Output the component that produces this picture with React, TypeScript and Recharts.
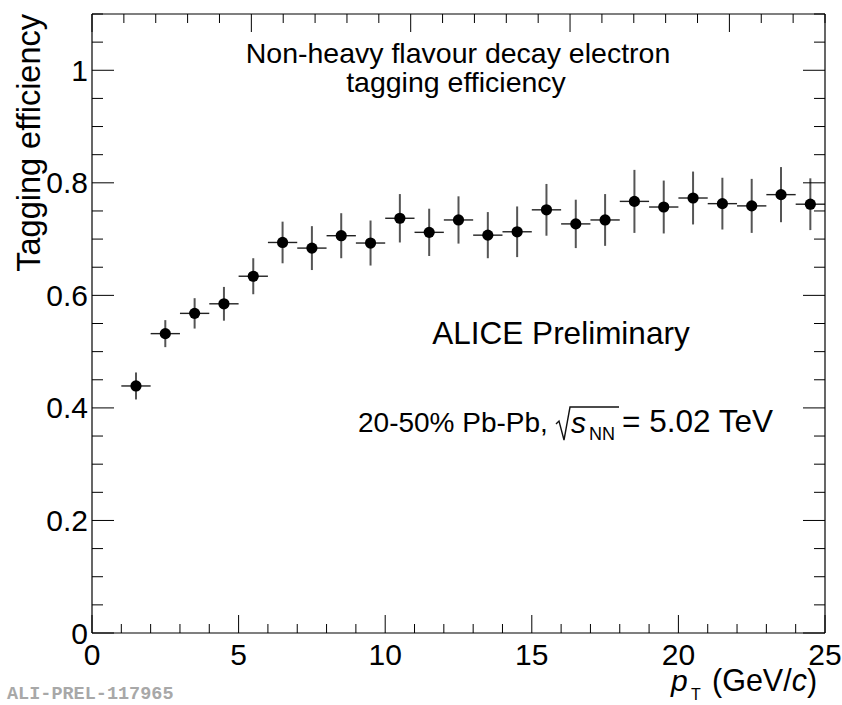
import React from 'react';
import { ComposedChart, Scatter, XAxis, YAxis, ErrorBar } from 'recharts';

// ---- data ----
const ptBinCenters = [1.5, 2.5, 3.5, 4.5, 5.5, 6.5, 7.5, 8.5, 9.5, 10.5, 11.5, 12.5, 13.5, 14.5, 15.5, 16.5, 17.5, 18.5, 19.5, 20.5, 21.5, 22.5, 23.5, 24.5];
const ptBinHalfWidths = [0.5, 0.5, 0.5, 0.5, 0.5, 0.5, 0.5, 0.5, 0.5, 0.5, 0.5, 0.5, 0.5, 0.5, 0.5, 0.5, 0.5, 0.5, 0.5, 0.5, 0.5, 0.5, 0.5, 0.5];
const taggingEff = [0.439, 0.532, 0.568, 0.585, 0.634, 0.694, 0.684, 0.706, 0.693, 0.737, 0.712, 0.734, 0.707, 0.713, 0.752, 0.727, 0.734, 0.767, 0.757, 0.773, 0.763, 0.759, 0.779, 0.762];
const taggingEffErr = [0.024, 0.024, 0.027, 0.030, 0.032, 0.037, 0.039, 0.040, 0.040, 0.043, 0.042, 0.042, 0.041, 0.045, 0.046, 0.043, 0.046, 0.056, 0.047, 0.047, 0.046, 0.048, 0.049, 0.046];

const xTickValues = [0, 1, 2, 3, 4, 5, 6, 7, 8, 9, 10, 11, 12, 13, 14, 15, 16, 17, 18, 19, 20, 21, 22, 23, 24, 25];
const xTickLabels = [0, 5, 10, 15, 20, 25];
const yTickValues = [0, 0.05, 0.1, 0.15, 0.2, 0.25, 0.3, 0.35, 0.4, 0.45, 0.5, 0.55, 0.6, 0.65, 0.7, 0.75, 0.8, 0.85, 0.9, 0.95, 1.0, 1.05, 1.1];
const yTickLabels = [0, 0.2, 0.4, 0.6, 0.8, 1];

const data = ptBinCenters.map((x, i) => ({ x, y: taggingEff[i], ex: ptBinHalfWidths[i], ey: taggingEffErr[i] }));

const FONT = '"Liberation Sans", Arial, Helvetica, sans-serif';

const isIn = (arr: number[], v: number) => arr.some((a) => Math.abs(a - v) < 1e-6);
const fmtY = (v: number) => (Math.abs(v) < 1e-9 ? '0' : Math.abs(v - 1) < 1e-9 ? '1' : v.toFixed(1));

const XTick = (props: any) => {
  const { x, y, payload, top } = props;
  const v = payload.value;
  const major = isIn(xTickLabels, v);
  const len = major ? 18 : 9;
  const dir = top ? 1 : -1;
  return (
    <g>
      <line x1={x} y1={y} x2={x} y2={y + dir * len} stroke="#000" strokeWidth={1} />
      {!top && major && (
        <text x={x} y={y + 32} textAnchor="middle" fontFamily={FONT} fontSize={30} fill="#000">
          {v}
        </text>
      )}
    </g>
  );
};

const YTick = (props: any) => {
  const { x, y, payload, right } = props;
  const v = payload.value;
  const major = isIn(yTickLabels, v);
  const len = major ? 22 : 11;
  const dir = right ? -1 : 1;
  return (
    <g>
      <line x1={x} y1={y} x2={x + dir * len} y2={y} stroke="#000" strokeWidth={1} />
      {!right && major && (
        <text x={x - 4} y={y + 10.5} textAnchor="end" fontFamily={FONT} fontSize={30} fill="#000">
          {fmtY(v)}
        </text>
      )}
    </g>
  );
};

const Dot = (props: any) => <circle cx={props.cx} cy={props.cy} r={5.6} fill="#000" />;

const axisLine = { stroke: '#000', strokeWidth: 1.2 };

export default function App() {
  return (
    <div style={{ position: 'absolute', left: 0, top: 0, width: 842, height: 705, background: '#fff' }}>
      <ComposedChart width={842} height={705} data={data} margin={{ top: 13, right: 16, bottom: 71, left: 91 }}>
        <XAxis
          xAxisId="b"
          type="number"
          dataKey="x"
          domain={[0, 25]}
          ticks={xTickValues}
          interval={0}
          height={1}
          tickSize={0}
          tickMargin={0}
          axisLine={axisLine}
          tick={(p: any) => <XTick {...p} />}
          allowDataOverflow
        />
        <XAxis
          xAxisId="t"
          orientation="top"
          type="number"
          domain={[0, 25]}
          ticks={xTickValues}
          interval={0}
          height={1}
          tickSize={0}
          tickMargin={0}
          axisLine={axisLine}
          tick={(p: any) => <XTick {...p} top />}
          allowDataOverflow
        />
        <YAxis
          yAxisId="l"
          type="number"
          domain={[0, 1.1]}
          ticks={yTickValues}
          interval={0}
          width={1}
          tickSize={0}
          tickMargin={0}
          axisLine={axisLine}
          tick={(p: any) => <YTick {...p} />}
          allowDataOverflow
        />
        <YAxis
          yAxisId="r"
          orientation="right"
          type="number"
          domain={[0, 1.1]}
          ticks={yTickValues}
          interval={0}
          width={1}
          tickSize={0}
          tickMargin={0}
          axisLine={axisLine}
          tick={(p: any) => <YTick {...p} right />}
          allowDataOverflow
        />
        <Scatter xAxisId="b" yAxisId="l" dataKey="y" fill="#000" shape={Dot} isAnimationActive={false}>
          <ErrorBar dataKey="ex" direction="x" width={0} stroke="#222" strokeWidth={1.4} />
          <ErrorBar dataKey="ey" direction="y" width={0} stroke="#555" strokeWidth={2} />
        </Scatter>
      </ComposedChart>
      <svg
        width={842}
        height={705}
        style={{ position: 'absolute', left: 0, top: 0, pointerEvents: 'none' }}
        fontFamily={FONT}
      >
        <text x={458} y={63} textAnchor="middle" fontSize={28.5} fill="#000">Non-heavy flavour decay electron</text>
        <text x={456} y={92} textAnchor="middle" fontSize={28.5} fill="#000">tagging efficiency</text>
        <text x={561} y={344} textAnchor="middle" fontSize={31.5} fill="#000">ALICE Preliminary</text>
        <text x={358} y={432} fontSize={28} fill="#000">20-50% Pb-Pb,</text>
        <path d="M 556 424 L 559 421 L 564 440 L 570 407 L 619 407" fill="none" stroke="#111" strokeWidth={1.4} />
        <text x={571} y={433} fontSize={30} fontStyle="italic" fill="#000">s</text>
        <text x={589} y={440} fontSize={18} fill="#000">NN</text>
        <text x={622} y={432} fontSize={31.5} fill="#000">= 5.02 TeV</text>
        <text transform="translate(40,14) rotate(-90)" textAnchor="end" fontSize={32.5} fill="#000">Tagging efficiency</text>
        <text x={671} y={691} fontSize={30} fontStyle="italic" fill="#000">p</text>
        <text x={691} y={700} fontSize={16} fill="#000">T</text>
        <text x={712} y={691} fontSize={30.5} fill="#000">
          (GeV/<tspan fontStyle="italic">c</tspan>)
        </text>
        <text x={7} y={699} fontSize={18.5} fontWeight="bold" fontFamily='"Liberation Mono", "DejaVu Sans Mono", monospace' fill="#a8a8a8">
          ALI-PREL-117965
        </text>
      </svg>
    </div>
  );
}
